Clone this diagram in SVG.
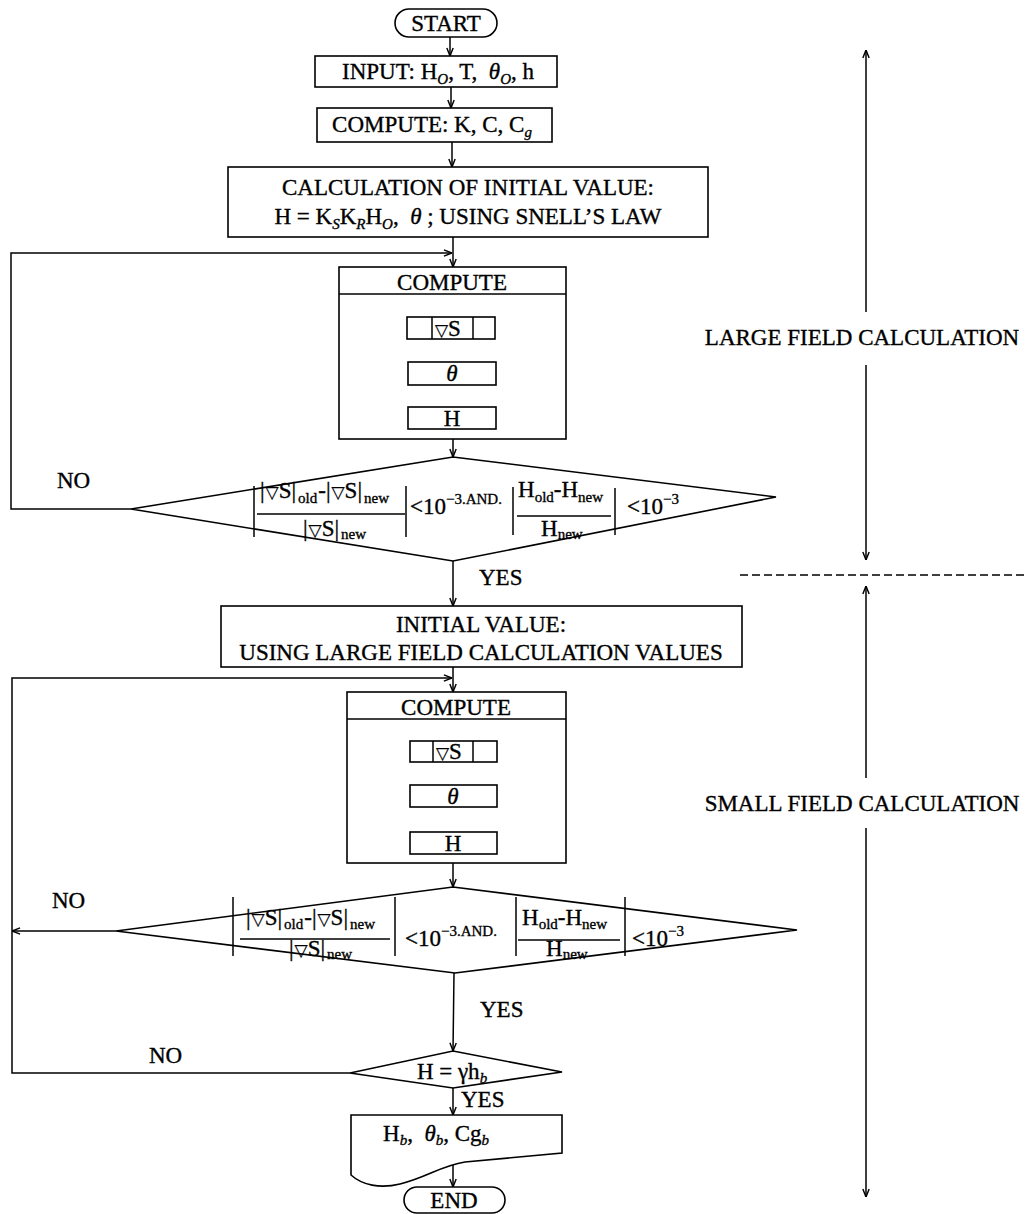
<svg xmlns="http://www.w3.org/2000/svg" width="1025" height="1214" viewBox="0 0 1025 1214">
<style>
.b{fill:#fff;stroke:#000;stroke-width:1.6}
.l{fill:none;stroke:#000;stroke-width:1.5}
.t{font-family:"Liberation Serif","Times New Roman",serif;font-size:23px;fill:#000;stroke:#000;stroke-width:0.35}
.c{text-anchor:middle}
.s{font-size:15px}
.i{font-style:italic}
.n{font-family:"DejaVu Sans",sans-serif;font-size:17px;stroke-width:0.25}
</style>
<defs>
<marker id="ah" viewBox="0 0 10 10" refX="10" refY="5" markerWidth="9" markerHeight="9" orient="auto-start-reverse" markerUnits="userSpaceOnUse">
<path d="M1,1.5 L10,5 L1,8.5" fill="none" stroke="#000" stroke-width="1.6"/>
</marker>
</defs>
<rect width="1025" height="1214" fill="#fff"/>

<g id="connectors">
<line class="l" x1="450" y1="37" x2="450" y2="56" marker-end="url(#ah)"/>
<line class="l" x1="451" y1="87" x2="451" y2="108" marker-end="url(#ah)"/>
<line class="l" x1="452" y1="142" x2="452" y2="167" marker-end="url(#ah)"/>
<line class="l" x1="453" y1="237" x2="453" y2="267" marker-end="url(#ah)"/>
<polyline class="l" points="131,509 11,509 11,253 452,253" marker-end="url(#ah)"/>
<line class="l" x1="453" y1="294" x2="453" y2="317" marker-end="url(#ah)"/>
<line class="l" x1="453" y1="339" x2="453" y2="362" marker-end="url(#ah)"/>
<line class="l" x1="453" y1="385" x2="453" y2="407" marker-end="url(#ah)"/>
<line class="l" x1="453" y1="429" x2="453" y2="457" marker-end="url(#ah)"/>
<line class="l" x1="453" y1="561" x2="453" y2="606" marker-end="url(#ah)"/>
<line class="l" x1="453" y1="667" x2="453" y2="692" marker-end="url(#ah)"/>
<polyline class="l" points="350,1073 12,1073 12,678 452,678" marker-end="url(#ah)"/>
<line class="l" x1="453" y1="719" x2="453" y2="741" marker-end="url(#ah)"/>
<line class="l" x1="453" y1="762" x2="453" y2="785" marker-end="url(#ah)"/>
<line class="l" x1="453" y1="807" x2="453" y2="832" marker-end="url(#ah)"/>
<line class="l" x1="453" y1="854" x2="453" y2="887" marker-end="url(#ah)"/>
<line class="l" x1="116" y1="931" x2="12" y2="931" marker-end="url(#ah)"/>
<line class="l" x1="454" y1="973" x2="453" y2="1051" marker-end="url(#ah)"/>
<line class="l" x1="453" y1="1088" x2="453" y2="1115" marker-end="url(#ah)"/>
<line class="l" x1="453" y1="1162" x2="453" y2="1187" marker-end="url(#ah)"/>
</g>

<g id="start">
<rect class="b" x="395" y="9" width="102" height="28" rx="14"/>
<text class="t c" x="446" y="31">START</text>
</g>

<g id="input">
<rect class="b" x="315" y="56" width="242" height="31"/>
<text class="t c" x="438" y="79">INPUT: H<tspan class="s i" dy="5">O</tspan><tspan dy="-5">, T,&#160; </tspan><tspan class="i">θ</tspan><tspan class="s i" dy="5">O</tspan><tspan dy="-5">, h</tspan></text>
</g>

<g id="compute-k">
<rect class="b" x="317" y="108" width="235" height="34"/>
<text class="t c" x="432" y="132">COMPUTE: K, C, C<tspan class="s i" dy="5">g</tspan></text>
</g>

<g id="calc-initial">
<rect class="b" x="228" y="167" width="480" height="70"/>
<text class="t c" x="468" y="195">CALCULATION OF INITIAL VALUE:</text>
<text class="t c" x="468" y="224">H = K<tspan class="s i" dy="5">S</tspan><tspan dy="-5">K</tspan><tspan class="s i" dy="5">R</tspan><tspan dy="-5">H</tspan><tspan class="s i" dy="5">O</tspan><tspan dy="-5">,&#160; </tspan><tspan class="i">θ</tspan> ; USING SNELL’S LAW</text>
</g>

<g id="compute-large">
<rect class="b" x="339" y="267" width="227" height="172"/>
<line class="l" x1="339" y1="294" x2="566" y2="294"/>
<text class="t c" x="452" y="290">COMPUTE</text>
<rect class="b" x="407" y="317" width="88" height="22"/>
<line class="l" x1="432" y1="317" x2="432" y2="339"/>
<line class="l" x1="473" y1="317" x2="473" y2="339"/>
<text class="t" x="435" y="336"><tspan class="n">▽</tspan>S</text>
<rect class="b" x="408" y="362" width="88" height="23"/>
<text class="t c i" x="452" y="381">θ</text>
<rect class="b" x="408" y="407" width="88" height="22"/>
<text class="t c" x="452" y="426">H</text>
</g>

<g id="check-large">
<polygon class="b" points="453,457 776,497 453,561 131,509"/>
<line class="l" x1="254" y1="486" x2="254" y2="537"/>
<text class="t" x="260" y="498">|<tspan class="n" dx="1">▽</tspan>S|<tspan class="s" dy="5" dx="2">old</tspan><tspan dy="-5" dx="1">-|</tspan><tspan class="n" dx="1">▽</tspan>S|<tspan class="s" dy="5" dx="2">new</tspan></text>
<line class="l" x1="257" y1="514" x2="405" y2="514"/>
<text class="t" x="303" y="536">|<tspan class="n" dx="1">▽</tspan>S|<tspan class="s" dy="3" dx="2">new</tspan></text>
<line class="l" x1="406" y1="486" x2="406" y2="537"/>
<text class="t" x="410" y="514">&lt;10<tspan class="s" dy="-10">−3.AND.</tspan></text>
<line class="l" x1="513" y1="487" x2="513" y2="535"/>
<text class="t" x="518" y="497">H<tspan class="s" dy="5">old</tspan><tspan dy="-5">-H</tspan><tspan class="s" dy="5">new</tspan></text>
<line class="l" x1="517" y1="516" x2="611" y2="516"/>
<text class="t" x="541" y="536">H<tspan class="s" dy="3">new</tspan></text>
<line class="l" x1="615" y1="488" x2="615" y2="535"/>
<text class="t" x="627" y="514">&lt;10<tspan class="s" dy="-10">−3</tspan></text>
</g>

<g id="initial-value">
<rect class="b" x="221" y="606" width="521" height="61"/>
<text class="t c" x="481" y="632">INITIAL VALUE:</text>
<text class="t c" x="481" y="660">USING LARGE FIELD CALCULATION VALUES</text>
</g>

<g id="compute-small">
<rect class="b" x="347" y="692" width="219" height="171"/>
<line class="l" x1="347" y1="719" x2="566" y2="719"/>
<text class="t c" x="456" y="715">COMPUTE</text>
<rect class="b" x="410" y="741" width="87" height="21"/>
<line class="l" x1="433" y1="741" x2="433" y2="762"/>
<line class="l" x1="473" y1="741" x2="473" y2="762"/>
<text class="t" x="436" y="759"><tspan class="n">▽</tspan>S</text>
<rect class="b" x="410" y="785" width="87" height="22"/>
<text class="t c i" x="453" y="804">θ</text>
<rect class="b" x="410" y="832" width="87" height="22"/>
<text class="t c" x="453" y="851">H</text>
</g>

<g id="check-small">
<polygon class="b" points="453,887 797,930 455,973 116,931"/>
<line class="l" x1="233" y1="897" x2="233" y2="956"/>
<text class="t" x="246" y="925">|<tspan class="n" dx="1">▽</tspan>S|<tspan class="s" dy="4" dx="2">old</tspan><tspan dy="-4" dx="1">-|</tspan><tspan class="n" dx="1">▽</tspan>S|<tspan class="s" dy="4" dx="2">new</tspan></text>
<line class="l" x1="240" y1="939" x2="390" y2="939"/>
<text class="t" x="289" y="956">|<tspan class="n" dx="1">▽</tspan>S|<tspan class="s" dy="3" dx="2">new</tspan></text>
<line class="l" x1="395" y1="897" x2="395" y2="956"/>
<text class="t" x="405" y="946">&lt;10<tspan class="s" dy="-10">−3.AND.</tspan></text>
<line class="l" x1="516" y1="897" x2="516" y2="956"/>
<text class="t" x="522" y="925">H<tspan class="s" dy="4">old</tspan><tspan dy="-4">-H</tspan><tspan class="s" dy="4">new</tspan></text>
<line class="l" x1="518" y1="940" x2="620" y2="940"/>
<text class="t" x="546" y="956">H<tspan class="s" dy="3">new</tspan></text>
<line class="l" x1="625" y1="897" x2="625" y2="956"/>
<text class="t" x="632" y="946">&lt;10<tspan class="s" dy="-10">−3</tspan></text>
</g>

<g id="check-break">
<polygon class="b" points="453,1051 562,1072 453,1088 350,1073"/>
<text class="t c" x="452" y="1079">H = γh<tspan class="s i" dy="4">b</tspan></text>
</g>

<g id="output">
<path class="b" d="M351,1115 H562 V1153 L465,1162 C440,1166 428,1177 400,1184 C380,1189 362,1185 351,1175 Z"/>
<text class="t" x="383" y="1141">H<tspan class="s i" dy="4">b</tspan><tspan dy="-4">,&#160; </tspan><tspan class="i">θ</tspan><tspan class="s i" dy="4">b</tspan><tspan dy="-4">, Cg</tspan><tspan class="s i" dy="4">b</tspan></text>
</g>

<g id="end">
<rect class="b" x="404" y="1187" width="101" height="26" rx="13"/>
<text class="t c" x="454" y="1208">END</text>
</g>

<g id="labels">
<text class="t" x="57" y="488">NO</text>
<text class="t" x="479" y="585">YES</text>
<text class="t" x="52" y="908">NO</text>
<text class="t" x="480" y="1017">YES</text>
<text class="t" x="149" y="1063">NO</text>
<text class="t" x="461" y="1107">YES</text>
</g>

<g id="ranges">
<line class="l" x1="866" y1="312" x2="866" y2="50" marker-end="url(#ah)"/>
<line class="l" x1="866" y1="365" x2="866" y2="560" marker-end="url(#ah)"/>
<text class="t c" x="862" y="345">LARGE FIELD CALCULATION</text>
<line class="l" x1="740" y1="575" x2="1025" y2="575" stroke-dasharray="8,4"/>
<line class="l" x1="866" y1="778" x2="866" y2="586" marker-end="url(#ah)"/>
<line class="l" x1="866" y1="828" x2="866" y2="1197" marker-end="url(#ah)"/>
<text class="t c" x="862" y="811">SMALL FIELD CALCULATION</text>
</g>
</svg>
